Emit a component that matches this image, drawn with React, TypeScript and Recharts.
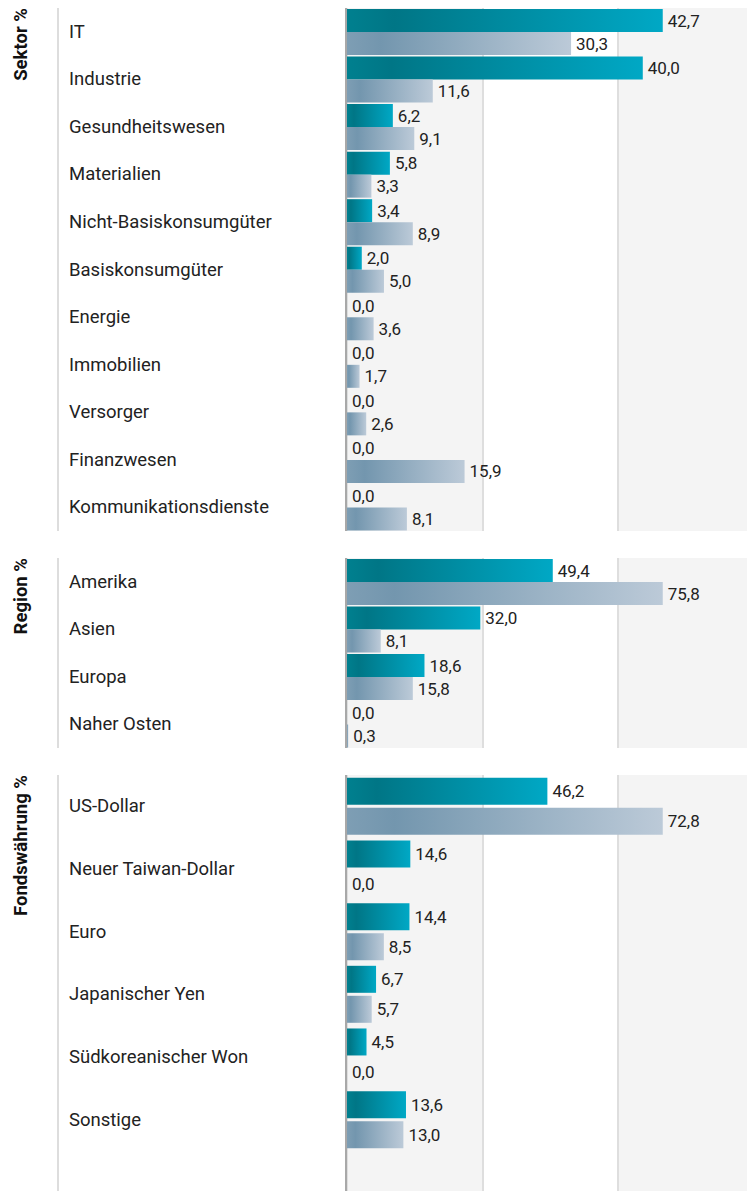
import React from "react";
import { BarChart, Bar, XAxis, YAxis, CartesianGrid, LabelList } from "recharts";

const sektorNames = [
  "IT",
  "Industrie",
  "Gesundheitswesen",
  "Materialien",
  "Nicht-Basiskonsumgüter",
  "Basiskonsumgüter",
  "Energie",
  "Immobilien",
  "Versorger",
  "Finanzwesen",
  "Kommunikationsdienste",
];
const sektorFonds = [42.7, 40.0, 6.2, 5.8, 3.4, 2.0, 0.0, 0.0, 0.0, 0.0, 0.0];
const sektorIndex = [30.3, 11.6, 9.1, 3.3, 8.9, 5.0, 3.6, 1.7, 2.6, 15.9, 8.1];

const regionNames = ["Amerika", "Asien", "Europa", "Naher Osten"];
const regionFonds = [49.4, 32.0, 18.6, 0.0];
const regionIndex = [75.8, 8.1, 15.8, 0.3];

const waehrungNames = [
  "US-Dollar",
  "Neuer Taiwan-Dollar",
  "Euro",
  "Japanischer Yen",
  "Südkoreanischer Won",
  "Sonstige",
];
const waehrungFonds = [46.2, 14.6, 14.4, 6.7, 4.5, 13.6];
const waehrungIndex = [72.8, 0.0, 8.5, 5.7, 0.0, 13.0];

const FONT = "Roboto, 'Noto Sans', sans-serif";
const PLOT_LEFT = 347; // page x where the bars start
const CHART_LEFT = 58;
const CHART_W = 754 - CHART_LEFT;
const AXIS_W = PLOT_LEFT - CHART_LEFT;

const fmt = (v: any) => Number(v).toFixed(1).replace(".", ",");

function build(names: string[], fonds: number[], index: number[]) {
  return names.map((name, i) => ({ name, fonds: fonds[i], index: index[i] }));
}

function CatTick({ y, payload }: any) {
  return (
    <text x={11} y={y} dy={6} textAnchor="start" fontSize={18.5} fill="#222" fontFamily={FONT}>
      {payload.value}
    </text>
  );
}

// value label drawn right of the bar end, also for zero-length bars
function ValueLabel({ x, y, width, height, value }: any) {
  if (value == null) return null;
  return (
    <text
      x={Number(x) + Number(width || 0) + 5}
      y={Number(y) + Number(height) / 2}
      dy={6}
      textAnchor="start"
      fontSize={17}
      fill="#222"
      fontFamily={FONT}
    >
      {fmt(value)}
    </text>
  );
}

type PanelProps = {
  id: string;
  title: string;
  top: number;
  height: number;
  names: string[];
  fonds: number[];
  index: number[];
  catGap: number;
  barGap: number;
  padBottom?: number;
};

function Panel({ id, title, top, height, names, fonds, index, catGap, barGap, padBottom = 0 }: PanelProps) {
  const data = build(names, fonds, index);
  const max = Math.max(...fonds, ...index);
  const dmax = max * 1.289;
  const ticks = [0, dmax / 3, (2 * dmax) / 3, dmax];
  // grid lines at 0, 1/3 and 2/3 of the value range
  const gridX = (args: any) => {
    const left = args?.offset?.left ?? AXIS_W;
    const w = args?.offset?.width ?? CHART_W - AXIS_W;
    return ticks.slice(0, 3).map((t) => Math.round(left + (t / dmax) * w));
  };
  return (
    <>
      <div
        style={{
          position: "absolute",
          left: 10,
          top,
          writingMode: "vertical-rl",
          transform: "rotate(180deg)",
          fontFamily: FONT,
          fontWeight: 700,
          fontSize: 18.5,
          lineHeight: "22px",
          color: "#111",
          whiteSpace: "nowrap",
        }}
      >
        {title}
      </div>
      <div
        style={{ position: "absolute", left: 57, top, width: 2, height, background: "#dddddd" }}
      />
      <div style={{ position: "absolute", left: CHART_LEFT, top }}>
        <BarChart
          width={CHART_W}
          height={height}
          data={data}
          layout="vertical"
          margin={{ top: 0, right: 0, bottom: 0, left: 0 }}
          barCategoryGap={catGap}
          barGap={barGap}
        >
          <defs>
            <linearGradient id={`f-${id}`} x1="0" y1="0" x2="1" y2="0">
              <stop offset="0%" stopColor="#00808f" />
              <stop offset="15%" stopColor="#007686" />
              <stop offset="100%" stopColor="#00a8c5" />
            </linearGradient>
            <linearGradient id={`i-${id}`} x1="0" y1="0" x2="1" y2="0">
              <stop offset="0%" stopColor="#7e9eb4" />
              <stop offset="15%" stopColor="#7396ae" />
              <stop offset="100%" stopColor="#bccad8" />
            </linearGradient>
          </defs>
          <CartesianGrid
            horizontal={false}
            stroke="#dedede"
            strokeWidth={2}
            verticalFill={["#f4f4f4", "#ffffff", "#f4f4f4"]}
            verticalCoordinatesGenerator={gridX}
          />
          <XAxis type="number" domain={[0, dmax]} ticks={ticks} hide />
          <YAxis
            type="category"
            dataKey="name"
            width={AXIS_W}
            tick={<CatTick />}
            tickLine={false}
            axisLine={{ stroke: "#a8a8a8", strokeWidth: 2, transform: "translate(-1,0)" }}
            padding={{ top: 0, bottom: padBottom }}
            interval={0}
          />
          <Bar dataKey="fonds" fill={`url(#f-${id})`} minPointSize={0.01} isAnimationActive={false}>
            <LabelList dataKey="fonds" content={<ValueLabel />} />
          </Bar>
          <Bar dataKey="index" fill={`url(#i-${id})`} minPointSize={0.01} isAnimationActive={false}>
            <LabelList dataKey="index" content={<ValueLabel />} />
          </Bar>
        </BarChart>
      </div>
    </>
  );
}

export default function App() {
  return (
    <div
      style={{
        position: "absolute",
        left: 0,
        top: 0,
        width: 747,
        height: 1191,
        overflow: "hidden",
        background: "#fff",
      }}
    >
      <Panel
        id="s"
        title="Sektor %"
        top={8}
        height={523}
        names={sektorNames}
        fonds={sektorFonds}
        index={sektorIndex}
        catGap={1}
        barGap={0}
      />
      <Panel
        id="r"
        title="Region %"
        top={558}
        height={190}
        names={regionNames}
        fonds={regionFonds}
        index={regionIndex}
        catGap={1}
        barGap={0}
      />
      <Panel
        id="w"
        title="Fondswährung %"
        top={775}
        height={416}
        names={waehrungNames}
        fonds={waehrungFonds}
        index={waehrungIndex}
        catGap={2.8}
        barGap={3}
        padBottom={40}
      />
    </div>
  );
}
